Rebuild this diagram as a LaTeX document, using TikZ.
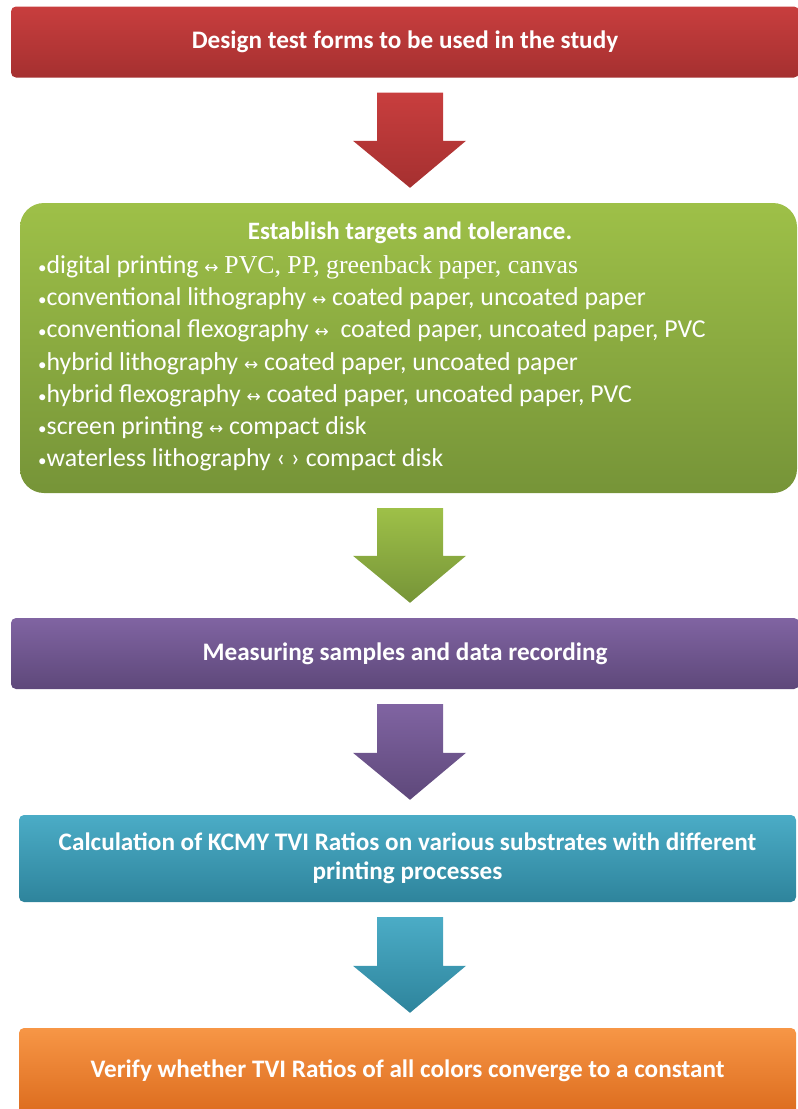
\documentclass[tikz,border=0pt]{standalone}
\usepackage{fontspec}
\setmainfont{Carlito}
\newfontfamily\serifpart{Liberation Serif}
\newfontfamily\arrowfont{DejaVu Sans}
\usetikzlibrary{calc}

\definecolor{redtop}{RGB}{200,62,62}
\definecolor{redbot}{RGB}{165,48,48}
\definecolor{greentop}{RGB}{158,192,72}
\definecolor{greenbot}{RGB}{118,148,56}
\definecolor{purpletop}{RGB}{128,100,162}
\definecolor{purplebot}{RGB}{94,72,122}
\definecolor{cyantop}{RGB}{75,172,198}
\definecolor{cyanbot}{RGB}{46,132,156}
\definecolor{orangetop}{RGB}{247,150,70}
\definecolor{orangebot}{RGB}{220,108,30}

\newcommand{\lr}{ {\arrowfont\fontsize{17}{17}\selectfont↔} }
\newcommand{\bul}{{\fontsize{17}{17}\selectfont•}}

% block arrow between two boxes
\newcommand{\blockarrow}[3]{%
  \path[#3] let \p1=(#1.south), \p2=(#2.north) in
    (377,\y1-15pt) -- (443,\y1-15pt) -- (443,\y2+62pt) -- (466,\y2+62pt)
    -- (410,\y2+15pt) -- (353,\y2+62pt) -- (377,\y2+62pt) -- cycle;
}

\begin{document}
\begin{tikzpicture}[
    x=1pt, y=-1pt,
    box/.style={rectangle, rounded corners=5pt, inner sep=0pt, text=white,
        font=\fontsize{25.2}{28.5}\selectfont\bfseries, align=center},
    redbox/.style={box, top color=redtop, bottom color=redbot},
    greenbox/.style={box, rounded corners=24pt, top color=greentop, bottom color=greenbot},
    purplebox/.style={box, top color=purpletop, bottom color=purplebot},
    cyanbox/.style={box, top color=cyantop, bottom color=cyanbot},
    orangebox/.style={box, top color=orangetop, bottom color=orangebot},
    redarrow/.style={top color=redtop, bottom color=redbot},
    greenarrow/.style={top color=greentop, bottom color=greenbot},
    purplearrow/.style={top color=purpletop, bottom color=purplebot},
    cyanarrow/.style={top color=cyantop, bottom color=cyanbot},
    listtext/.style={text=white, anchor=north west, align=left, inner sep=0pt,
        font=\fontsize{25.8}{32.3}\selectfont}
]
\useasboundingbox (0,0) rectangle (798,1109);

% boxes
\node[redbox, minimum width=788pt, minimum height=71pt] (design) at (405,42)
    {Design test forms to be used in the study};
\node[greenbox, minimum width=777pt, minimum height=290pt] (targets) at (408.5,348) {};
\node[purplebox, minimum width=788pt, minimum height=71pt] (measure) at (405,653.5)
    {Measuring samples and data recording};
\node[cyanbox, minimum width=777pt, minimum height=87pt] (calc) at (407.5,858.5)
    {Calculation of KCMY TVI Ratios on various substrates with different\\printing processes};
\node[orangebox, minimum width=777pt, minimum height=86pt] (verify) at (407.5,1071)
    {Verify whether TVI Ratios of all colors converge to a constant};

% contents of the green box
\node[text=white, font=\fontsize{25}{28}\selectfont\bfseries] (title) at (410,233)
    {Establish targets and tolerance.};
\node[listtext] (list) at (38,255) {%
    \bul digital printing\lr{\serifpart PVC, PP, greenback paper, canvas}\\
    \bul conventional lithography\lr coated paper, uncoated paper\\
    \bul conventional flexography\lr\ coated paper, uncoated paper, PVC\\
    \bul hybrid lithography\lr coated paper, uncoated paper\\
    \bul hybrid flexography\lr coated paper, uncoated paper, PVC\\
    \bul screen printing\lr compact disk\\
    \bul waterless lithography ‹ › compact disk};

% arrows
\blockarrow{design}{targets}{redarrow}
\blockarrow{targets}{measure}{greenarrow}
\blockarrow{measure}{calc}{purplearrow}
\blockarrow{calc}{verify}{cyanarrow}

\end{tikzpicture}
\end{document}
